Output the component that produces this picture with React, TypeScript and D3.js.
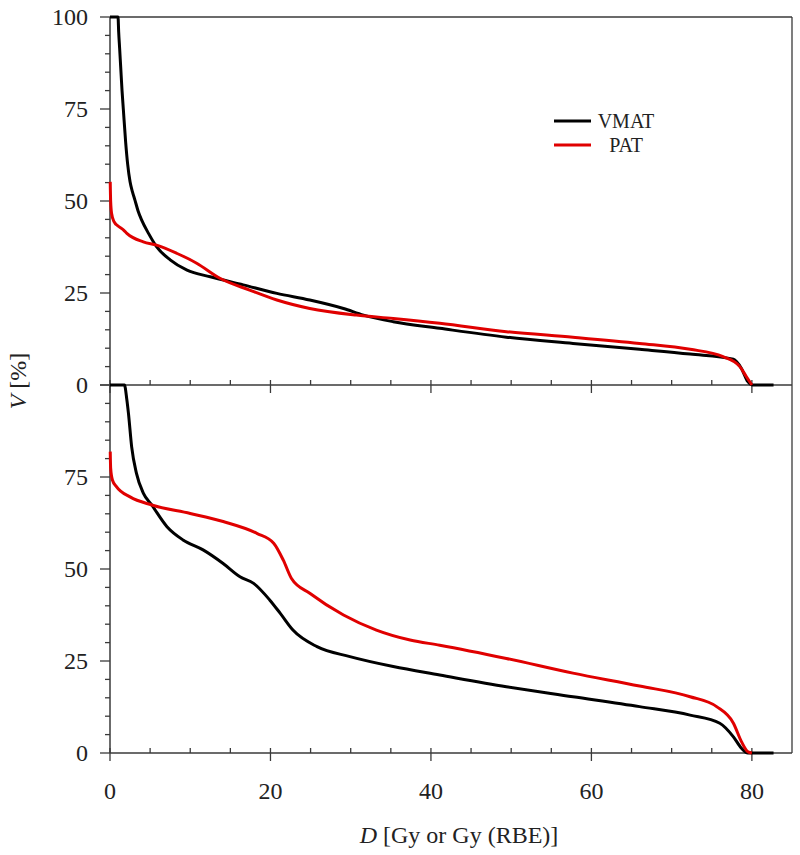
import React from "react";
import * as d3 from "d3";

type P = [number, number];

// Top panel DVH curves [dose (Gy), volume (%)]
const topVMAT: P[] = [
  [0, 100], [1.0, 100], [1.08, 96], [1.2, 91.5], [1.33, 86.5], [1.5, 80], [1.66, 75],
  [1.95, 66], [2.2, 60], [2.5, 55.2], [2.8, 52.5], [3.1, 50.3], [3.5, 47.3],
  [3.95, 44.8], [4.8, 41.2], [5.8, 37.6], [7.5, 34], [9.6, 31.2], [12.5, 29.4],
  [16.6, 27.2], [20.8, 24.9], [24.9, 23.1], [29.1, 20.8], [31.6, 19.0], [35.3, 17.2],
  [41.1, 15.4], [49.4, 13.0], [57.7, 11.3], [66.0, 9.7], [72.3, 8.4], [77.7, 7.0],
  [78.7, 4.5], [79.5, 0.9], [80.1, 0], [82.7, 0],
];
const topPAT: P[] = [
  [0.03, 55.2], [0.08, 50], [0.2, 46.6], [0.5, 44.4], [1.0, 43.2], [1.7, 42.1], [2.1, 41.2], [4.15, 38.9],
  [5.8, 38.0], [8.3, 35.8], [10.8, 33.1], [13.7, 29.0], [17.4, 25.8], [20.8, 23.1],
  [24.9, 20.8], [30.7, 19.0], [35.3, 18.1], [41.1, 16.8], [49.4, 14.5], [57.7, 13.0],
  [66.0, 11.3], [72.3, 9.7], [76.4, 7.7], [78.5, 5.0], [79.3, 2.3], [80.0, 0],
];
// Bottom panel DVH curves
const botVMAT: P[] = [
  [0, 100], [1.8, 100], [2.1, 96], [2.3, 92.3], [2.7, 83.2], [3.3, 76.0], [4.15, 70.6], [5.2, 67.4],
  [7.1, 61.5], [9.1, 57.9], [11.6, 55.2], [14.1, 51.5], [16.2, 47.9], [17.9, 46.1],
  [19.9, 41.6], [21.2, 38.0], [22.8, 33.4], [25.8, 28.9], [29.9, 26.2], [35.3, 23.5],
  [41.1, 21.2], [49.4, 18.0], [57.7, 15.3], [66.0, 12.6], [72.3, 10.3], [76.0, 8.1],
  [77.7, 4.4], [78.7, 1.3], [79.5, 0], [82.7, 0],
];
const botPAT: P[] = [
  [0.03, 81.9], [0.08, 77.5], [0.3, 74.2], [0.8, 72.4], [2.5, 69.6], [5.2, 67.4], [10.0, 65.1],
  [14.1, 62.9], [18.3, 59.7], [20.4, 57.0], [21.6, 52.4], [22.6, 47.5], [24.9, 43.4],
  [29.1, 37.5], [33.2, 33.4], [37.4, 30.7], [41.1, 29.3], [49.4, 25.7], [57.7, 21.7],
  [66.0, 18.2], [72.3, 15.3], [75.6, 12.6], [77.7, 8.1], [78.7, 3.1], [79.5, 0.35], [80.0, 0],
];

const xMajorTicks = [0, 20, 40, 60, 80];
const xMinorTicks = d3.range(0, 81, 5);
const yMajorTicks = [0, 25, 50, 75, 100];
const yMinorTicks = d3.range(0, 101, 5);
const topYLabels = [0, 25, 50, 75, 100];
const botYLabels = [0, 25, 50, 75];
const seriesNames = ["VMAT", "PAT"];
const seriesColors = ["#000000", "#e00000"];

const W = 800;
const H = 855;
const left = 110;
const right = 792;
const topY0 = 17;
const midY = 385;
const botY = 753;

const FONT = "'Liberation Serif', 'Times New Roman', serif";
const AX = "#3a3a3a";

export default function App() {
  const x = d3.scaleLinear().domain([0, 85]).range([left, right]);
  const yTop = d3.scaleLinear().domain([0, 100]).range([midY, topY0]);
  const yBot = d3.scaleLinear().domain([0, 100]).range([botY, midY]);

  const mkLine = (ys: d3.ScaleLinear<number, number>) =>
    d3
      .line<P>()
      .x((d) => x(d[0]))
      .y((d) => ys(d[1]))
      .curve(d3.curveMonotoneX);

  const lt = mkLine(yTop);
  const lb = mkLine(yBot);

  const yAxis = (ys: d3.ScaleLinear<number, number>, key: string) => (
    <g key={key}>
      {yMinorTicks.map((t) => (
        <line
          key={"m" + t}
          x1={left - (yMajorTicks.includes(t) ? 10 : 5)}
          x2={left}
          y1={ys(t)}
          y2={ys(t)}
          stroke={AX}
          strokeWidth={1.3}
        />
      ))}
    </g>
  );

  const xAxisTicks = (yPos: number, key: string) => (
    <g key={key}>
      {xMinorTicks.map((t) => {
        const major = xMajorTicks.includes(t);
        return (
          <line
            key={t}
            x1={x(t)}
            x2={x(t)}
            y1={yPos - 5}
            y2={major ? yPos + 8 : yPos}
            stroke={AX}
            strokeWidth={1.3}
          />
        );
      })}
    </g>
  );

  return (
    <svg width={W} height={H} style={{ display: "block", position: "absolute", left: 0, top: 0 }}>
      <rect width={W} height={H} fill="#fff" />
      {/* frame */}
      <line x1={left} x2={right} y1={topY0} y2={topY0} stroke={AX} strokeWidth={1.3} />
      <line x1={right} x2={right} y1={topY0} y2={botY} stroke={AX} strokeWidth={1.3} />
      <line x1={left} x2={right} y1={midY} y2={midY} stroke={AX} strokeWidth={1.5} />
      <line x1={left} x2={right} y1={botY} y2={botY} stroke={AX} strokeWidth={1.5} />
      <line x1={left} x2={left} y1={topY0} y2={botY} stroke={AX} strokeWidth={1.5} />
      {yAxis(yTop, "yt")}
      {yAxis(yBot, "yb")}
      {xAxisTicks(midY, "xm")}
      {xAxisTicks(botY, "xb")}

      {/* curves */}
      <path d={lt(topVMAT) || ""} fill="none" stroke={seriesColors[0]} strokeWidth={3} />
      <path d={lt(topPAT) || ""} fill="none" stroke={seriesColors[1]} strokeWidth={3} />
      <path d={lb(botVMAT) || ""} fill="none" stroke={seriesColors[0]} strokeWidth={3} />
      <path d={lb(botPAT) || ""} fill="none" stroke={seriesColors[1]} strokeWidth={3} />

      {/* y labels */}
      <g fontFamily={FONT} fontSize={24} fill="#222" textAnchor="end">
        {topYLabels.map((t) => (
          <text key={"t" + t} x={88} y={yTop(t)} dy="0.35em">
            {t}
          </text>
        ))}
        {botYLabels.map((t) => (
          <text key={"b" + t} x={88} y={yBot(t)} dy="0.35em">
            {t}
          </text>
        ))}
      </g>
      {/* x labels */}
      <g fontFamily={FONT} fontSize={24} fill="#222" textAnchor="middle">
        {xMajorTicks.map((t) => (
          <text key={t} x={x(t)} y={799}>
            {t}
          </text>
        ))}
      </g>
      {/* axis titles */}
      <text x={459} y={843} fontFamily={FONT} fontSize={24} fill="#222" textAnchor="middle">
        <tspan fontStyle="italic">D</tspan> [Gy or Gy (RBE)]
      </text>
      <text
        transform="translate(26,381) rotate(-90)"
        fontFamily={FONT}
        fontSize={24}
        fill="#222"
        textAnchor="middle"
      >
        <tspan fontStyle="italic">V</tspan> [%]
      </text>

      {/* legend */}
      <g fontFamily={FONT} fontSize={20} fill="#222">
        {seriesNames.map((n, i) => (
          <g key={n}>
            <line x1={554} x2={591} y1={121 + i * 24} y2={121 + i * 24} stroke={seriesColors[i]} strokeWidth={3} />
            <text x={626} y={128 + i * 24} textAnchor="middle">
              {n}
            </text>
          </g>
        ))}
      </g>
    </svg>
  );
}
